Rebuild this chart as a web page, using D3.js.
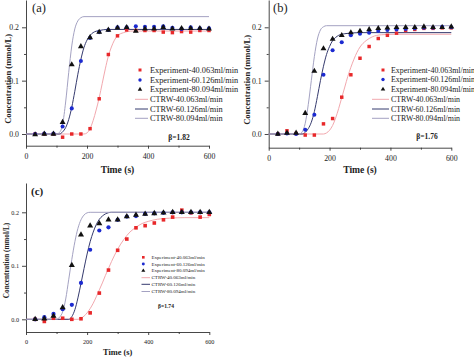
<!DOCTYPE html>
<html><head><meta charset="utf-8">
<script src="https://cdn.jsdelivr.net/npm/d3@7"></script>
<style>body{margin:0;background:#fff}svg{display:block}</style>
</head><body>
<svg id="chart" width="474" height="357"></svg>
<script>
// ---------- DATA ----------
const times = [30,60,90,120,150,180,210,240,270,300,330,360,390,420,450,480,510,540,570,600];
const seriesNames = ["Experiment-40.063ml/min","Experiment-60.126ml/min","Experiment-80.094ml/min"];
const curveNames = ["CTRW-40.063ml/min","CTRW-60.126ml/min","CTRW-80.094ml/min"];
const xTicks = [0,200,400,600];
const yTicks = [0.0,0.1,0.2];
const panelLabels = ["(a)","(b)","(c)"];
const betaLabels = ["β=1.82","β=1.76","β=1.74"];

// panel (a)
const expA40 = [0,0,0,-0.006,0,0,0.010,0.066,0.149,0.184,0.195,0.194,0.194,0.194,0.191,0.190,0.192,0.191,0.194,0.194];
const expA60 = [0,0.001,0.001,0.014,0.048,0.137,0.180,0.191,0.195,0.200,0.200,0.202,0.201,0.201,0.202,0.199,0.197,0.200,0.198,0.198];
const expA80 = [-0.001,0,0,0.022,0.130,0.164,0.181,0.191,0.195,0.199,0.200,0.193,0.197,0.197,0.200,0.197,0.198,0.198,0.198,0.197];
const ctrwA40 = [[0,0],[190,0],[200,0.002],[210,0.010],[220,0.025],[230,0.045],[240,0.068],[250,0.095],[260,0.122],[270,0.146],[280,0.163],[290,0.176],[300,0.184],[320,0.190],[350,0.193],[600,0.193]];
const ctrwA60 = [[0,0],[110,0],[120,0.004],[130,0.012],[140,0.027],[150,0.050],[160,0.080],[170,0.112],[180,0.140],[190,0.162],[200,0.176],[210,0.185],[220,0.190],[240,0.194],[270,0.196],[600,0.196]];
const ctrwA80 = [[0,0],[100,0],[110,0.003],[120,0.018],[130,0.060],[140,0.115],[150,0.165],[160,0.197],[170,0.212],[180,0.218],[190,0.220],[600,0.220]];

// panel (b)
const expB40 = [0,0.006,0.001,-0.002,-0.002,0.019,0.029,0.069,0.111,0.142,0.164,0.179,0.185,0.189,0.194,0.196,0.198,0.198,0.199,0.199];
const expB60 = [0,0.001,0,0.008,0.036,0.111,0.157,0.172,0.185,0.188,0.190,0.193,0.195,0.196,0.197,0.198,0.199,0.199,0.201,0.200];
const expB80 = [0,0.002,0.002,0.039,0.118,0.160,0.178,0.185,0.190,0.193,0.196,0.198,0.199,0.200,0.200,0.200,0.201,0.200,0.200,0.201];
const ctrwB40 = [[0,0],[180,0],[190,0.002],[200,0.007],[210,0.016],[220,0.030],[230,0.048],[240,0.068],[250,0.088],[260,0.108],[270,0.125],[280,0.140],[290,0.153],[300,0.163],[320,0.175],[340,0.182],[370,0.186],[420,0.187],[600,0.187]];
const ctrwB60 = [[0,0],[110,0],[120,0.003],[130,0.010],[140,0.022],[150,0.042],[160,0.070],[170,0.100],[180,0.127],[190,0.149],[200,0.164],[210,0.175],[220,0.181],[230,0.185],[250,0.188],[300,0.190],[600,0.190]];
const ctrwB80 = [[0,0],[100,0],[110,0.004],[120,0.020],[130,0.055],[140,0.100],[150,0.145],[160,0.178],[170,0.195],[180,0.201],[190,0.203],[600,0.203]];

// panel (c)
const expC40 = [0,-0.004,0.002,0.002,0,0.001,0.012,0.049,0.092,0.129,0.150,0.171,0.175,0.180,0.186,0.191,0.204,0.199,0.191,0.196];
const expC60 = [0,0.004,0.010,0.019,0.027,0.068,0.130,0.166,0.172,0.186,0.192,0.193,0.197,0.198,0.199,0.200,0.200,0.200,0.200,0.200];
const expC80 = [0,0.001,0.006,0.022,0.101,0.158,0.175,0.179,0.186,0.186,0.192,0.195,0.197,0.198,0.199,0.200,0.200,0.200,0.200,0.200];
const ctrwC40 = [[0,0],[170,0],[180,0.002],[190,0.006],[200,0.012],[210,0.020],[220,0.030],[230,0.042],[240,0.055],[250,0.068],[260,0.082],[270,0.095],[280,0.108],[290,0.120],[300,0.131],[320,0.149],[340,0.163],[360,0.172],[380,0.179],[400,0.183],[430,0.187],[470,0.189],[520,0.190],[600,0.190]];
const ctrwC60 = [[0,0],[140,0],[150,0.005],[160,0.018],[170,0.040],[180,0.067],[190,0.095],[200,0.122],[210,0.145],[220,0.163],[230,0.177],[240,0.187],[250,0.193],[260,0.197],[280,0.200],[600,0.200]];
const ctrwC80 = [[0,0],[100,0],[110,0.004],[120,0.014],[130,0.038],[140,0.075],[150,0.112],[160,0.145],[170,0.170],[180,0.186],[190,0.195],[200,0.199],[210,0.200],[600,0.200]];

// ---------- STYLE / LAYOUT ----------
const markerColors = ["#e8282a","#1c2ad0","#111111"];
const markerShapes = [d3.symbolSquare, d3.symbolCircle, d3.symbolTriangle];
const lineColors = ["#f2a8ae","#353a6e","#a4a2c2"];
const FONT = "'Liberation Serif','Times New Roman',serif";

const panels = [
  {x0:26, x1:209, y0:134, y2:27.3, yBot:145.7, yTop:0, exp:[expA40,expA60,expA80], ctrw:[ctrwA40,ctrwA60,ctrwA80],
   tickFs:7.8, labFs:8.6, xlabFs:9.6, xlabY:173, ylabX:8, titleX:32, titleY:12, titleFs:12.5, titleW:"normal",
   leg:{mx:140, lx0:135, lx1:148, tx:150, rows:[70,80,89.5,99.3,109,118.3], fs:8.3, ms:9},
   beta:{x:179, y:140, fs:7.5}, msz:[12,13,15]},
  {x0:268.7, x1:451.3, y0:134, y2:27.3, yBot:147.7, yTop:0, exp:[expB40,expB60,expB80], ctrw:[ctrwB40,ctrwB60,ctrwB80],
   tickFs:7.8, labFs:8.6, xlabFs:9.6, xlabY:173, ylabX:247, titleX:273, titleY:12, titleFs:12.5, titleW:"normal",
   leg:{mx:383, lx0:372, lx1:389, tx:391, rows:[70,79.5,89.3,99.3,109,118.3], fs:7.9, ms:9},
   beta:{x:427, y:139, fs:7.5}, msz:[12,13,15]},
  {x0:26, x1:209.3, y0:319.3, y2:212.3, yBot:332, yTop:183, exp:[expC40,expC60,expC80], ctrw:[ctrwC40,ctrwC60,ctrwC80],
   tickFs:6.2, labFs:7.2, xlabFs:8.4, xlabY:355, ylabX:7, titleX:31, titleY:195, titleFs:11, titleW:"bold",
   leg:{mx:143.3, lx0:141.5, lx1:150, tx:151.5, rows:[257.3,264,270.7,277.7,284.3,291.5], fs:5, ms:7},
   beta:{x:166, y:308, fs:5.6}, msz:[13,14,16]}
];

const svg = d3.select("#chart");

panels.forEach((p, pi) => {
  const x = d3.scaleLinear().domain([0,600]).range([p.x0, p.x1]);
  const yb = d3.scaleLinear().domain([0,0.2]).range([p.y0, p.y2]);
  const y = d3.scaleLinear().domain([yb.invert(p.yBot), yb.invert(p.yTop)]).range([p.yBot, p.yTop]);
  const g = svg.append("g");

  // axes
  const xAxis = d3.axisBottom(x).tickValues(xTicks).tickFormat(d3.format("d")).tickSize(3).tickSizeOuter(0);
  const gx = g.append("g").attr("transform", `translate(0,${p.yBot})`).call(xAxis);
  gx.selectAll("text").attr("font-family", FONT).attr("font-size", p.tickFs).attr("dy", "0.9em").attr("fill","#222");
  const xMinor = d3.axisBottom(x).tickValues([100,300,500]).tickFormat("").tickSize(2).tickSizeOuter(0);
  g.append("g").attr("transform", `translate(0,${p.yBot})`).call(xMinor).select(".domain").remove();

  const yAxis = d3.axisLeft(y).tickValues(yTicks).tickFormat(d3.format(".1f")).tickSize(4).tickSizeOuter(0);
  const gy = g.append("g").attr("transform", `translate(${p.x0},0)`).call(yAxis);
  gy.selectAll("text").attr("font-family", FONT).attr("font-size", p.tickFs).attr("fill","#222");
  const yMinor = d3.axisLeft(y).tickValues([0.05,0.15]).tickFormat("").tickSize(2).tickSizeOuter(0);
  g.append("g").attr("transform", `translate(${p.x0},0)`).call(yMinor).select(".domain").remove();
  g.selectAll(".domain, .tick line").attr("stroke","#333").attr("stroke-width",0.9);

  // axis labels
  g.append("text").attr("x", (p.x0+p.x1)/2).attr("y", p.xlabY).attr("text-anchor","middle")
    .attr("font-family", FONT).attr("font-weight","bold").attr("font-size", p.xlabFs).attr("fill","#222").text("Time (s)");
  const ymid = (p.yBot + p.yTop)/2 + (pi===2? 3 : 6);
  g.append("text").attr("transform", `translate(${p.ylabX},${ymid}) rotate(-90)`).attr("text-anchor","middle")
    .attr("dominant-baseline","central")
    .attr("font-family", FONT).attr("font-weight","bold").attr("font-size", p.labFs).attr("fill","#222").text("Concentration (mmol/L)");

  // title
  g.append("text").attr("x", p.titleX).attr("y", p.titleY).attr("font-family", FONT)
    .attr("font-size", p.titleFs).attr("font-weight", p.titleW).attr("fill","#222").text(panelLabels[pi]);

  // curves
  const line = d3.line().x(d => x(d[0])).y(d => y(d[1])).curve(d3.curveMonotoneX);
  p.ctrw.forEach((c, ci) => {
    g.append("path").datum(c).attr("d", line).attr("fill","none")
      .attr("stroke", lineColors[ci]).attr("stroke-width", 1);
  });

  // points
  p.exp.forEach((vals, si) => {
    const sym = d3.symbol().type(markerShapes[si]).size(p.msz[si]);
    g.append("g").selectAll("path").data(vals).join("path")
      .attr("transform", (v, i) => `translate(${x(times[i])},${y(v)})`)
      .attr("d", sym).attr("fill", markerColors[si]);
  });

  // legend
  const L = p.leg;
  seriesNames.forEach((name, si) => {
    const ry = L.rows[si];
    g.append("path").attr("transform", `translate(${L.mx},${ry})`)
      .attr("d", d3.symbol().type(markerShapes[si]).size(L.ms)()).attr("fill", markerColors[si]);
    g.append("text").attr("x", L.tx).attr("y", ry).attr("dominant-baseline","central")
      .attr("font-family", FONT).attr("font-size", L.fs).attr("fill","#222").text(name);
  });
  curveNames.forEach((name, ci) => {
    const ry = L.rows[3+ci];
    g.append("line").attr("x1", L.lx0).attr("x2", L.lx1).attr("y1", ry).attr("y2", ry)
      .attr("stroke", lineColors[ci]).attr("stroke-width", 1);
    g.append("text").attr("x", L.tx).attr("y", ry).attr("dominant-baseline","central")
      .attr("font-family", FONT).attr("font-size", L.fs).attr("fill","#222").text(name);
  });

  // beta
  g.append("text").attr("x", p.beta.x).attr("y", p.beta.y).attr("text-anchor","middle")
    .attr("font-family", FONT).attr("font-weight","bold").attr("font-size", p.beta.fs).attr("fill","#222").text(betaLabels[pi]);
});
</script>
</body></html>
